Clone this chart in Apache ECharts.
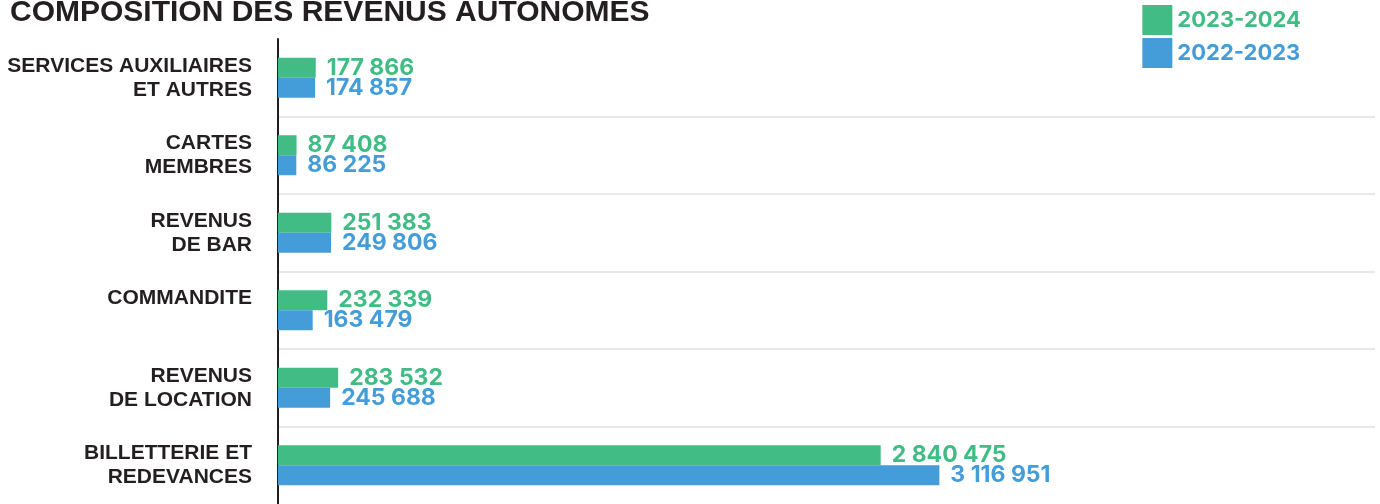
<!DOCTYPE html>
<html>
<head>
<meta charset="utf-8">
<title>Composition des revenus autonomes</title>
<script src="https://cdn.jsdelivr.net/npm/echarts@6/dist/echarts.min.js"></script>
<style>
  html, body { margin: 0; padding: 0; background: #fff; }
  #chart { width: 1380px; height: 504px; }
</style>
</head>
<body>
<div id="chart"></div>
<script>
// categories, top to bottom
const categories = [
  "SERVICES AUXILIAIRES\nET AUTRES",
  "CARTES\nMEMBRES",
  "REVENUS\nDE BAR",
  "COMMANDITE\n ",
  "REVENUS\nDE LOCATION",
  "BILLETTERIE ET\nREDEVANCES"
];
const seriesNames = ["2023-2024", "2022-2023"];
const values2324 = [177866, 87408, 251383, 232339, 283532, 2840475];
const values2223 = [174857, 86225, 249806, 163479, 245688, 3116951];

const colorList = ["#40bc84", "#449dd8"];
const labelFont = "'Liberation Sans', Arial, sans-serif";
const numberFont = "Inter, 'Noto Sans', sans-serif";

// 3116951 -> "3 116 951"
function fmt(v) {
  return String(v).replace(/\B(?=(\d{3})+(?!\d))/g, " ");
}

const chart = echarts.init(document.getElementById("chart"));

const series = [values2324, values2223].map((data, index) => {
  return {
    name: seriesNames[index],
    type: "bar",
    barWidth: 20,
    barGap: "0%",
    itemStyle: { color: colorList[index] },
    label: {
      show: true,
      position: "right",
      distance: 11,
      color: colorList[index],
      fontFamily: numberFont,
      fontWeight: "bold",
      fontSize: 23,
      formatter: p => fmt(p.value)
    },
    data: data
  };
});

const option = {
  backgroundColor: "#fff",
  animation: false,
  title: {
    text: "COMPOSITION DES REVENUS AUTONOMES",
    left: 5,
    top: -7,
    textStyle: {
      color: "#231f20",
      fontFamily: labelFont,
      fontWeight: "bold",
      fontSize: 30
    }
  },
  legend: {
    orient: "vertical",
    right: 74,
    top: 0,
    itemWidth: 30,
    itemHeight: 30,
    itemGap: 3,
    itemTextGap: 5,
    icon: "rect",
    data: seriesNames.map((name, index) => ({
      name: name,
      textStyle: {
        color: colorList[index],
        fontFamily: numberFont,
        fontWeight: "bold",
        fontSize: 22
      }
    }))
  },
  grid: {
    left: 278,
    right: 5,
    top: 39,
    bottom: -5
  },
  xAxis: {
    type: "value",
    min: 0,
    max: 5170000,
    axisLine: { show: false },
    axisTick: { show: false },
    axisLabel: { show: false },
    splitLine: { show: false }
  },
  yAxis: {
    type: "category",
    inverse: true,
    data: categories,
    axisLine: {
      show: true,
      lineStyle: { color: "#231f20", width: 2 }
    },
    axisTick: { show: false },
    splitLine: {
      show: true,
      showMinLine: false,
      showMaxLine: false,
      lineStyle: { color: "#e8e8e8", width: 2 }
    },
    axisLabel: {
      margin: 26,
      align: "right",
      color: "#231f20",
      fontFamily: labelFont,
      fontWeight: "bold",
      fontSize: 21,
      lineHeight: 24
    }
  },
  series
};

chart.setOption(option);
</script>
</body>
</html>
